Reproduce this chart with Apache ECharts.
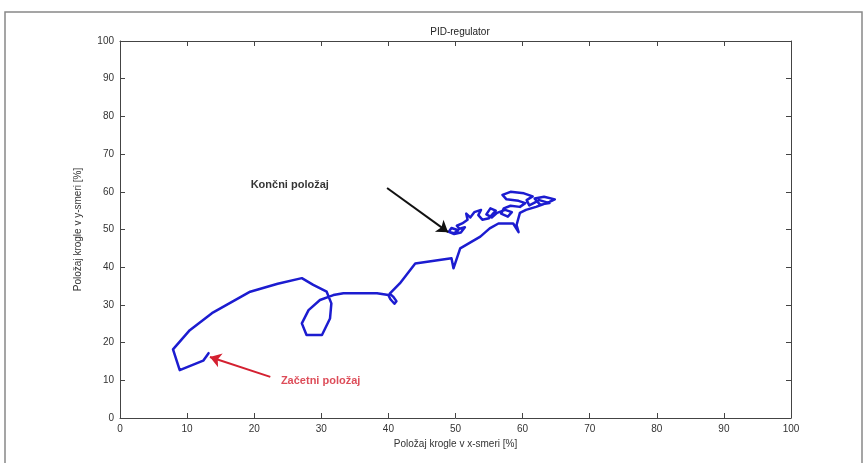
<!DOCTYPE html>
<html><head><meta charset="utf-8">
<script src="https://cdn.jsdelivr.net/npm/echarts@6/dist/echarts.min.js"></script>
<style>html,body{margin:0;padding:0;background:#fff}#c{width:867px;height:463px}</style>
</head><body><div id="c"></div>
<script>
// Trajectory of the ball (x %, y %)
const pathX = [13.2,12.4,8.9,7.9,10.4,13.7,19.4,23.5,27.1,28.8,30.8,31.5,31.3,30.1,27.8,27.1,28.1,29.8,31.8,33.3,38.3,40.0,40.3,40.9,41.2,40.7,40.2,41.7,44.0,49.4,49.7,50.7,53.7,55.1,56.4,58.6,59.4,59.1,59.6,60.5,62.0,64.0,64.8,63.2,61.8,62.6,64.0,62.5,61.0,60.6,61.5,60.2,58.2,57.0,57.6,59.4,60.4,59.6,58.2,57.2,56.8,57.8,58.4,57.4,56.2,55.4,54.6,55.2,56.0,55.0,54.0,53.4,53.8,52.8,52.2,51.6,51.8,51.0,50.2,50.6,51.4,50.8,49.8,49.0,49.4,50.4,49.8,49.2];
const pathY = [17.2,15.2,12.7,18.2,23.3,27.8,33.5,35.6,37.1,35.3,33.5,30.4,26.4,22.0,22.0,25.1,28.6,31.3,32.6,33.1,33.1,32.6,31.5,30.3,31.0,32.2,33.0,35.7,41.0,42.4,39.7,45.0,48.1,50.3,51.6,51.6,49.3,51.2,54.4,55.2,56.0,57.3,58.0,58.7,58.2,56.6,57.0,57.8,56.4,57.8,58.8,59.6,60.0,59.2,58.0,57.6,57.0,56.0,56.3,55.6,54.2,53.4,54.6,55.2,54.4,53.2,54.0,55.6,55.0,53.0,52.6,53.8,55.2,54.6,53.2,54.2,52.6,51.6,51.0,50.2,50.6,49.2,48.8,49.4,50.4,49.8,49.0,49.3];
const xTicks = [0,10,20,30,40,50,60,70,80,90,100];
const yTicks = [0,10,20,30,40,50,60,70,80,90,100];
// Annotations: text position, arrow start, arrow end
const endLabel = {text:'Končni položaj', at:[25.3,61.8], from:[39.8,61.0], to:[48.9,49.3]};
const startLabel = {text:'Začetni položaj', at:[29.9,9.8], from:[22.4,10.9], to:[13.4,16.2]};

const chart = echarts.init(document.getElementById('c'));
const font = 'Liberation Sans, Arial, sans-serif';
const axisCommon = {
  min:0, max:100, interval:10,
  axisLine:{show:true, onZero:false, lineStyle:{color:'#444', width:1}},
  axisTick:{show:true, inside:true, length:5, lineStyle:{color:'#444'}},
  splitLine:{show:false},
  axisLabel:{color:'#333', fontSize:10, fontFamily:font}
};
chart.setOption({
  animation:false,
  backgroundColor:'#fff',
  title:{text:'PID-regulator', left:455, top:22, textAlign:'center',
    textStyle:{fontSize:10, fontWeight:'normal', color:'#222', fontFamily:font}},
  graphic:[{type:'rect', shape:{x:5, y:12, width:857, height:460},
    style:{fill:'none', stroke:'#888', lineWidth:1.5}, silent:true}],
  grid:{left:120, right:76, top:41, bottom:45},
  xAxis:[
    Object.assign({}, axisCommon, {type:'value', position:'bottom',
      name:'Položaj krogle v x-smeri [%]', nameLocation:'middle', nameGap:15,
      nameTextStyle:{color:'#333', fontSize:10, fontFamily:font},
      axisLabel:Object.assign({}, axisCommon.axisLabel, {margin:6, formatter:v=>xTicks.includes(v)?String(v):''})}),
    Object.assign({}, axisCommon, {type:'value', position:'top', axisLabel:{show:false}})
  ],
  yAxis:[
    Object.assign({}, axisCommon, {type:'value', position:'left',
      name:'Položaj krogle v y-smeri [%]', nameLocation:'middle', nameGap:37,
      nameTextStyle:{color:'#333', fontSize:10, fontFamily:font},
      axisLabel:Object.assign({}, axisCommon.axisLabel, {margin:6, formatter:v=>yTicks.includes(v)?String(v):''})}),
    Object.assign({}, axisCommon, {type:'value', position:'right', axisLabel:{show:false}})
  ],
  series:[
    {type:'line', data:pathX.map((x,i)=>[x,pathY[i]]), showSymbol:false, symbol:'none',
      lineStyle:{color:'#1c1cd0', width:2.5, join:'round', cap:'round'}, z:3},
    {type:'lines', coordinateSystem:'cartesian2d', symbol:['none','arrow'], symbolSize:11,
      data:[{coords:[endLabel.from, endLabel.to], lineStyle:{color:'#111'}},
            {coords:[startLabel.from, startLabel.to], lineStyle:{color:'#d42030'}}],
      lineStyle:{width:2, opacity:1}, z:4},
    {type:'scatter', symbolSize:0, silent:true,
      data:[{value:endLabel.at, label:{formatter:endLabel.text, color:'#000'}},
            {value:startLabel.at, label:{formatter:startLabel.text, color:'#d42030'}}],
      label:{show:true, position:'inside', fontSize:11, fontWeight:'bold', fontFamily:font}, z:5}
  ]
});
</script></body></html>
